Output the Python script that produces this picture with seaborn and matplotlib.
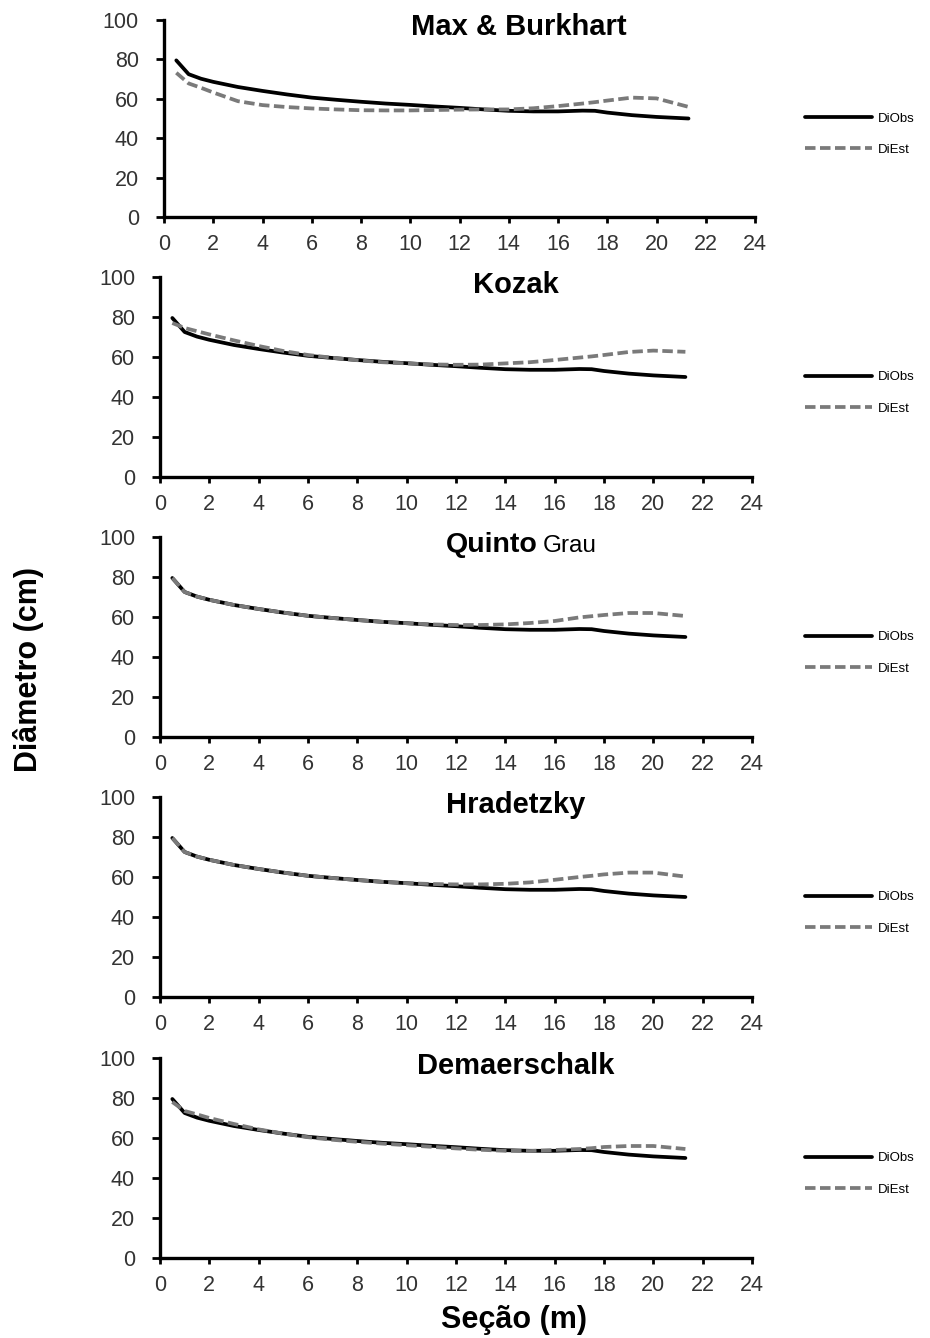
import matplotlib
matplotlib.use("Agg")
import matplotlib.pyplot as plt
import seaborn as sns

# Stem sections (m) and observed diameters (cm)
secao = [0.5, 1.0, 1.5, 2.0, 3.0, 4.0, 5.0, 6.0, 7.0, 8.0, 9.0, 10.0, 11.0,
         12.0, 13.0, 14.0, 15.0, 16.0, 17.0, 17.5, 18.0, 19.0, 20.0, 21.3]
di_obs = [79.5, 72.5, 70.2, 68.6, 66.0, 64.0, 62.2, 60.6, 59.5, 58.5, 57.6, 56.9, 56.1,
          55.4, 54.6, 53.9, 53.6, 53.6, 54.0, 53.9, 53.0, 51.7, 50.8, 50.0]

# Estimated diameters (cm) by taper model
est_max_burkhart = [73.2, 67.8, 65.6, 63.2, 58.8, 56.8, 55.8, 55.1, 54.6, 54.2, 54.1, 54.1, 54.3,
                    54.5, 54.6, 54.6, 55.2, 56.3, 57.6, 58.3, 59.1, 60.6, 60.2, 55.9]
est_kozak = [77.0, 74.5, 72.9, 71.3, 68.3, 65.5, 63.0, 61.0, 59.6, 58.4, 57.4, 56.8, 56.3,
             56.1, 56.2, 56.8, 57.4, 58.5, 59.7, 60.3, 61.0, 62.5, 63.2, 62.6]
est_quinto_grau = [79.5, 72.5, 70.2, 68.6, 66.0, 64.0, 62.2, 60.6, 59.5, 58.5, 57.6, 56.9, 56.3,
                   56.0, 56.0, 56.3, 57.0, 58.0, 59.8, 60.4, 61.0, 62.0, 62.0, 60.5]
est_hradetzky = [79.5, 72.5, 70.2, 68.6, 66.0, 64.0, 62.2, 60.6, 59.5, 58.5, 57.6, 56.9, 56.5,
                 56.3, 56.3, 56.6, 57.3, 58.6, 60.0, 60.6, 61.3, 62.2, 62.2, 60.2]
est_demaerschalk = [78.0, 73.5, 71.8, 70.0, 67.0, 64.3, 62.2, 60.4, 59.1, 58.1, 57.2, 56.4, 55.6,
                    54.8, 54.1, 53.6, 53.5, 54.0, 54.5, 54.9, 55.5, 56.0, 56.0, 54.5]

modelos = ["Max & Burkhart", "Kozak", "Quinto Grau", "Hradetzky", "Demaerschalk"]
estimados = [est_max_burkhart, est_kozak, est_quinto_grau, est_hradetzky, est_demaerschalk]

x_ticks = list(range(0, 25, 2))
y_ticks = list(range(0, 101, 20))

sns.set_theme(style="white")
plt.rcParams["font.family"] = ["Liberation Sans", "DejaVu Sans"]
plt.rcParams["text.color"] = "black"

W, H = 930, 1338
fig = plt.figure(figsize=(W / 100, H / 100), dpi=100)

# panel frames in pixels: (x of 0, x of 24, y of 100, y of 0)
frames = [(164, 755, 20, 217), (160, 752, 277, 477), (160, 752, 537, 737),
          (160, 752, 797, 997), (160, 752, 1058, 1258)]

for i, (nome, est) in enumerate(zip(modelos, estimados)):
    x0, x1, ytop, ybot = frames[i]
    ax = fig.add_axes([x0 / W, 1 - ybot / H, (x1 - x0) / W, (ybot - ytop) / H])
    sns.lineplot(x=secao, y=di_obs, ax=ax, color="black", linewidth=2.7,
                 label="DiObs", clip_on=False)
    sns.lineplot(x=secao, y=est, ax=ax, color="#7a7a7a", linewidth=2.7,
                 dashes=False, label="DiEst", clip_on=False)
    ax.lines[1].set_dashes((2.8, 1.2))
    ax.set_xlim(0, 24)
    ax.set_ylim(0, 100)
    ax.set_xticks(x_ticks)
    ax.set_yticks(y_ticks)
    ax.set_xlabel("")
    ax.set_ylabel("")
    for s in ["top", "right"]:
        ax.spines[s].set_visible(False)
    for s in ["left", "bottom"]:
        ax.spines[s].set_color("black")
        ax.spines[s].set_linewidth(2.4)
    ax.tick_params(axis="y", direction="out", length=6, width=2, color="black",
                   labelsize=15.5, labelcolor="#333333", pad=12, left=True)
    ax.tick_params(axis="x", direction="out", length=4, width=2, color="black",
                   labelsize=15.5, labelcolor="#333333", pad=8, bottom=True)
    ax.grid(False)

    if nome == "Quinto Grau":
        ax.text(0.6385, 0.962, "Quinto", transform=ax.transAxes, ha="right",
                va="center", fontsize=20.5, fontweight="bold", color="black")
        ax.text(0.647, 0.955, "Grau", transform=ax.transAxes, ha="left",
                va="center", fontsize=17.5, color="black")
    else:
        ax.text(0.601, 0.962, nome, transform=ax.transAxes, ha="center",
                va="center", fontsize=21, fontweight="bold", color="black")

    ycen = (ybot - 0.42 * (ybot - ytop))
    leg = ax.legend(loc="center left", bbox_to_anchor=(805 / W, 1 - ycen / H),
                    bbox_transform=fig.transFigure, frameon=False, fontsize=9.5,
                    handlelength=5.1, handletextpad=0.45, labelspacing=1.45,
                    borderpad=0, borderaxespad=0)
    for t in leg.get_texts():
        t.set_color("black")

fig.text(28 / W, 1 - 670 / H, "Diâmetro (cm)", rotation=90, ha="center",
         va="center", fontsize=22, fontweight="bold", color="black")
fig.text(514 / W, 1 - 1320 / H, "Seção (m)", ha="center", va="center",
         fontsize=22, fontweight="bold", color="black")

fig.savefig("out.png", dpi=100, facecolor="white")
